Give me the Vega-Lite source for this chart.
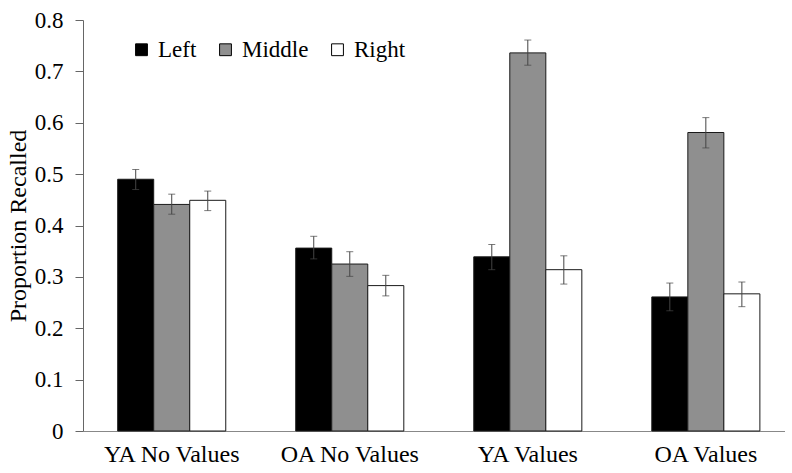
{
  "$schema": "https://vega.github.io/schema/vega-lite/v6.json",
  "width": 702,
  "height": 411,
  "autosize": {"type": "pad"},
  "padding": {"left": 6, "top": 9, "right": 0, "bottom": 0},
  "config": {
    "font": "Liberation Serif",
    "view": {"stroke": null},
    "axis": {"grid": false, "labelFont": "Liberation Serif", "titleFont": "Liberation Serif"},
    "legend": {"labelFont": "Liberation Serif"}
  },
  "data": {
    "values": [
      {"group": "YA No Values", "position": "Left", "mean": 0.490, "lo": 0.470, "hi": 0.509},
      {"group": "YA No Values", "position": "Middle", "mean": 0.441, "lo": 0.422, "hi": 0.461},
      {"group": "YA No Values", "position": "Right", "mean": 0.449, "lo": 0.429, "hi": 0.467},
      {"group": "OA No Values", "position": "Left", "mean": 0.356, "lo": 0.335, "hi": 0.379},
      {"group": "OA No Values", "position": "Middle", "mean": 0.325, "lo": 0.301, "hi": 0.349},
      {"group": "OA No Values", "position": "Right", "mean": 0.283, "lo": 0.263, "hi": 0.303},
      {"group": "YA Values", "position": "Left", "mean": 0.339, "lo": 0.314, "hi": 0.363},
      {"group": "YA Values", "position": "Middle", "mean": 0.736, "lo": 0.712, "hi": 0.761},
      {"group": "YA Values", "position": "Right", "mean": 0.314, "lo": 0.286, "hi": 0.341},
      {"group": "OA Values", "position": "Left", "mean": 0.261, "lo": 0.234, "hi": 0.288},
      {"group": "OA Values", "position": "Middle", "mean": 0.581, "lo": 0.551, "hi": 0.610},
      {"group": "OA Values", "position": "Right", "mean": 0.267, "lo": 0.242, "hi": 0.290}
    ]
  },
  "encoding": {
    "x": {
      "field": "group",
      "type": "nominal",
      "sort": ["YA No Values", "OA No Values", "YA Values", "OA Values"],
      "scale": {"paddingInner": 0.393, "paddingOuter": 0.168, "align": 0.58},
      "axis": {
        "title": null,
        "labelAngle": 0,
        "labelFont": "Liberation Serif",
        "labelFontSize": 24,
        "labelColor": "#000000",
        "labelPadding": 11,
        "ticks": false,
        "domainColor": "#888888",
        "domainWidth": 1
      }
    },
    "xOffset": {
      "field": "position",
      "type": "nominal",
      "sort": ["Left", "Middle", "Right"],
      "scale": {"paddingInner": 0, "paddingOuter": 0}
    }
  },
  "layer": [
    {
      "mark": {"type": "bar", "stroke": "#1a1a1a", "strokeWidth": 1},
      "encoding": {
        "y": {
          "field": "mean",
          "type": "quantitative",
          "scale": {"domain": [0, 0.8], "nice": false},
          "axis": {
            "title": "Proportion Recalled",
            "titleFont": "Liberation Serif",
            "titleFontSize": 24,
            "titleFontWeight": "normal",
            "titleColor": "#000000",
            "titlePadding": 4,
            "values": [0, 0.1, 0.2, 0.3, 0.4, 0.5, 0.6, 0.7, 0.8],
            "format": ".1~f",
            "labelFont": "Liberation Serif",
            "labelFontSize": 23,
            "labelColor": "#000000",
            "labelPadding": 12,
            "tickSize": 8,
            "tickColor": "#666666",
            "domainColor": "#666666"
          }
        },
        "color": {
          "field": "position",
          "type": "nominal",
          "sort": ["Left", "Middle", "Right"],
          "scale": {"domain": ["Left", "Middle", "Right"], "range": ["#000000", "#8f8f8f", "#ffffff"]},
          "legend": {
            "title": null,
            "orient": "none",
            "legendX": 47,
            "legendY": 18,
            "direction": "horizontal",
            "symbolType": "square",
            "symbolSize": 140,
            "symbolStrokeColor": "#000000",
            "symbolStrokeWidth": 1,
            "symbolOpacity": 1,
            "labelFont": "Liberation Serif",
            "labelFontSize": 23,
            "labelColor": "#000000",
            "labelOffset": 5,
            "columnPadding": 17
          }
        }
      }
    },
    {
      "mark": {"type": "rule", "color": "#444444", "strokeWidth": 1},
      "encoding": {
        "y": {"field": "lo", "type": "quantitative"},
        "y2": {"field": "hi"}
      }
    },
    {
      "mark": {"type": "tick", "color": "#444444", "size": 7, "thickness": 1},
      "encoding": {"y": {"field": "lo", "type": "quantitative"}}
    },
    {
      "mark": {"type": "tick", "color": "#444444", "size": 7, "thickness": 1},
      "encoding": {"y": {"field": "hi", "type": "quantitative"}}
    }
  ]
}
